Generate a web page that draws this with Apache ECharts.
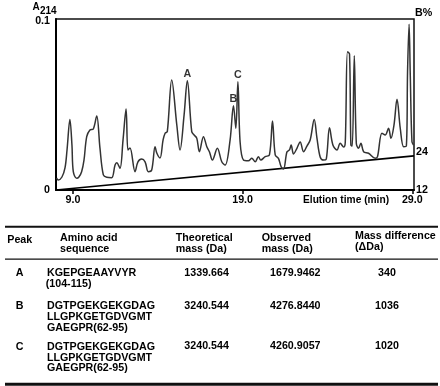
<!DOCTYPE html>
<html>
<head>
<meta charset="utf-8">
<style>
html,body{margin:0;padding:0;background:#fff;}
#c{width:440px;height:386px;}
</style>
<script src="https://cdn.jsdelivr.net/npm/echarts@6/dist/echarts.min.js"></script>
</head>
<body>
<div id="c"></div>
<script>
// ---- data ----
const traceTime = [8.04,8.13,8.35,8.53,8.65,8.82,8.94,9.02,9.22,9.35,9.51,9.65,9.81,10.00,10.20,10.40,10.59,10.79,10.99,11.28,11.48,11.58,11.77,11.95,12.13,12.24,12.36,12.66,12.83,13.05,13.25,13.44,13.64,13.84,13.94,14.13,14.31,14.43,14.56,14.82,15.12,15.31,15.55,15.74,16.00,16.14,16.30,16.45,16.69,16.89,17.04,17.22,17.51,17.77,17.97,18.26,18.46,18.60,18.72,18.85,19.05,19.34,19.54,19.74,19.93,20.07,20.33,20.58,20.76,20.92,21.11,21.27,21.41,21.61,21.76,21.86,22.00,22.20,22.39,22.59,22.79,22.98,23.22,23.38,23.57,23.77,23.93,24.12,24.32,24.56,24.75,24.95,25.05,25.18,25.30,25.38,25.46,25.58,25.70,25.83,25.97,26.13,26.42,26.82,26.95,27.21,27.41,27.60,27.74,27.92,28.10,28.29,28.49,28.65,28.72,28.81,28.88,28.98,29.08];
const traceAbs = [0.0070,0.0058,0.0076,0.0129,0.0234,0.0413,0.0263,0.0107,0.0068,0.0076,0.0107,0.0175,0.0312,0.0351,0.0357,0.0433,0.0246,0.0088,0.0074,0.0072,0.0146,0.0160,0.0127,0.0292,0.0474,0.0234,0.0246,0.0107,0.0164,0.0181,0.0165,0.0107,0.0117,0.0253,0.0216,0.0187,0.0292,0.0332,0.0341,0.0643,0.0380,0.0234,0.0439,0.0639,0.0341,0.0322,0.0302,0.0224,0.0312,0.0253,0.0224,0.0175,0.0244,0.0165,0.0146,0.0292,0.0493,0.0361,0.0633,0.0282,0.0175,0.0171,0.0185,0.0165,0.0195,0.0175,0.0195,0.0205,0.0404,0.0205,0.0185,0.0136,0.0123,0.0222,0.0234,0.0263,0.0211,0.0244,0.0281,0.0224,0.0257,0.0292,0.0413,0.0304,0.0193,0.0175,0.0181,0.0364,0.0263,0.0234,0.0273,0.0251,0.0281,0.0809,0.0795,0.0263,0.0257,0.0785,0.0273,0.0244,0.0273,0.0224,0.0215,0.0185,0.0195,0.0332,0.0322,0.0361,0.0302,0.0380,0.0530,0.0361,0.0253,0.0257,0.0692,0.0969,0.0673,0.0282,0.0263];
const gradientTime = [8.0, 29.1];
const gradientB = [12, 22.8];
const peakNames = ['A','B','C'];
const peakTime = [15.74, 18.46, 18.72];
const peakAbs = [0.0639, 0.0493, 0.0633];
const xTicks = [9, 19, 29];
const yTicks = [0, 0.1];
const bTicks = [12, 24];

const tableHeaders = [['Peak'], ['Amino acid','sequence'], ['Theoretical','mass (Da)'], ['Observed','mass (Da)'], ['Mass difference','(\u0394Da)']];
const peakIds = ['A','B','C'];
const sequences = [
  ['KGEPGEAAYVYR','(104-115)'],
  ['DGTPGEKGEKGDAG','LLGPKGETGDVGMT','GAEGPR(62-95)'],
  ['DGTPGEKGEKGDAG','LLGPKGETGDVGMT','GAEGPR(62-95)']
];
const theoreticalMass = ['1339.664','3240.544','3240.544'];
const observedMass = ['1679.9462','4276.8440','4260.9057'];
const massDiff = ['340','1036','1020'];

// ---- layout ----
const FF = '"Liberation Sans", Arial, Helvetica, sans-serif';
const F = (s) => 'bold ' + s + 'px ' + FF;
const g = [];
function txt(text, x, y, size, align) {
  g.push({type:'text', silent:true, style:{text:text, x:x, y:y, font:F(size), fill:'#000',
    textAlign: align || 'left', textVerticalAlign:'middle', align: align || 'left', verticalAlign:'middle'}});
}
function rule(y, w) {
  g.push({type:'line', silent:true, shape:{x1:5, y1:y, x2:438, y2:y}, style:{stroke:'#111', lineWidth:w}});
}
// axis names
txt('A', 32.5, 7, 10);
txt('214', 40, 11, 10);
txt('B%', 415, 13, 10.7);
txt('Elution time (min)', 303, 200.5, 10.2);

// table
rule(226.7, 2);
rule(259.2, 1.3);
rule(384.3, 3);
const hx = [7.3, 60, 175.7, 261.7, 355];
const hy = [240, 238.3, 238.3, 238, 236.3];
tableHeaders.forEach((lines, i) => lines.forEach((t, j) => txt(t, hx[i], hy[i] + j * 11, 10.7)));
const rowY = [273, 306.5, 347];
const numY = [273, 305.6, 346.3];
peakIds.forEach((p, r) => {
  txt(p, 19.7, rowY[r], 10.7, 'center');
  sequences[r].forEach((t, j) => txt(t, (r === 0 && j === 1) ? 45.7 : 47, rowY[r] + j * 10.6, 10.7));
  txt(theoreticalMass[r], 184.3, numY[r], 10.7);
  txt(observedMass[r], 270, numY[r], 10.7);
  txt(massDiff[r], 387, numY[r], 10.7, 'center');
});

const chart = echarts.init(document.getElementById('c'), null, {renderer:'canvas'});
chart.setOption({
  backgroundColor:'#fff',
  animation:false,
  grid:{left:56, right:26, top:19, bottom:196, show:true, borderColor:'#111', borderWidth:1.5, backgroundColor:'transparent', outerBoundsMode:'none'},
  xAxis:{type:'value', min:8, max:29.1,
    axisLine:{show:true, onZero:false, lineStyle:{color:'#000', width:2}},
    axisTick:{show:true, customValues:xTicks, length:4, lineStyle:{color:'#000', width:1.5}},
    axisLabel:{customValues:xTicks, formatter:(v)=>v.toFixed(1), margin:5, color:'#000', fontSize:10.7, fontWeight:'bold', fontFamily:FF},
    splitLine:{show:false}},
  yAxis:[
    {type:'value', min:0, max:0.1,
      axisLine:{show:true, lineStyle:{color:'#000', width:2}},
      axisTick:{show:false},
      axisLabel:{customValues:yTicks, margin:6, color:'#000', fontSize:10.7, fontWeight:'bold', fontFamily:FF,
        formatter:(v)=> v === 0 ? '0' : '{t|' + v + '}',
        rich:{t:{fontSize:10.7, fontWeight:'bold', fontFamily:FF, color:'#000', padding:[4,0,0,0]}}},
      splitLine:{show:false}},
    {type:'value', min:12, max:66, position:'right',
      axisLine:{show:false}, axisTick:{show:false},
      axisLabel:{customValues:bTicks, margin:2, color:'#000', fontSize:10.7, fontWeight:'bold', fontFamily:FF},
      splitLine:{show:false}}
  ],
  series:[
    {type:'line', name:'A214', data:traceTime.map((t,i)=>[t, traceAbs[i]]), showSymbol:false, smooth:0.35,
      lineStyle:{color:'#333', width:1.5}, z:3},
    {type:'line', name:'B%', yAxisIndex:1, data:gradientTime.map((t,i)=>[t, gradientB[i]]), showSymbol:false,
      lineStyle:{color:'#000', width:1.7}, z:2},
    {type:'scatter', name:'peaks', data:peakNames.map((n,i)=>({name:n, value:[peakTime[i], peakAbs[i]]})), symbolSize:0,
      label:{show:true, position:'top', distance:1, formatter:'{b}', color:'#000', fontSize:10.7, fontWeight:'bold', fontFamily:FF}, z:4}
  ],
  graphic:g
});
</script>
</body>
</html>
